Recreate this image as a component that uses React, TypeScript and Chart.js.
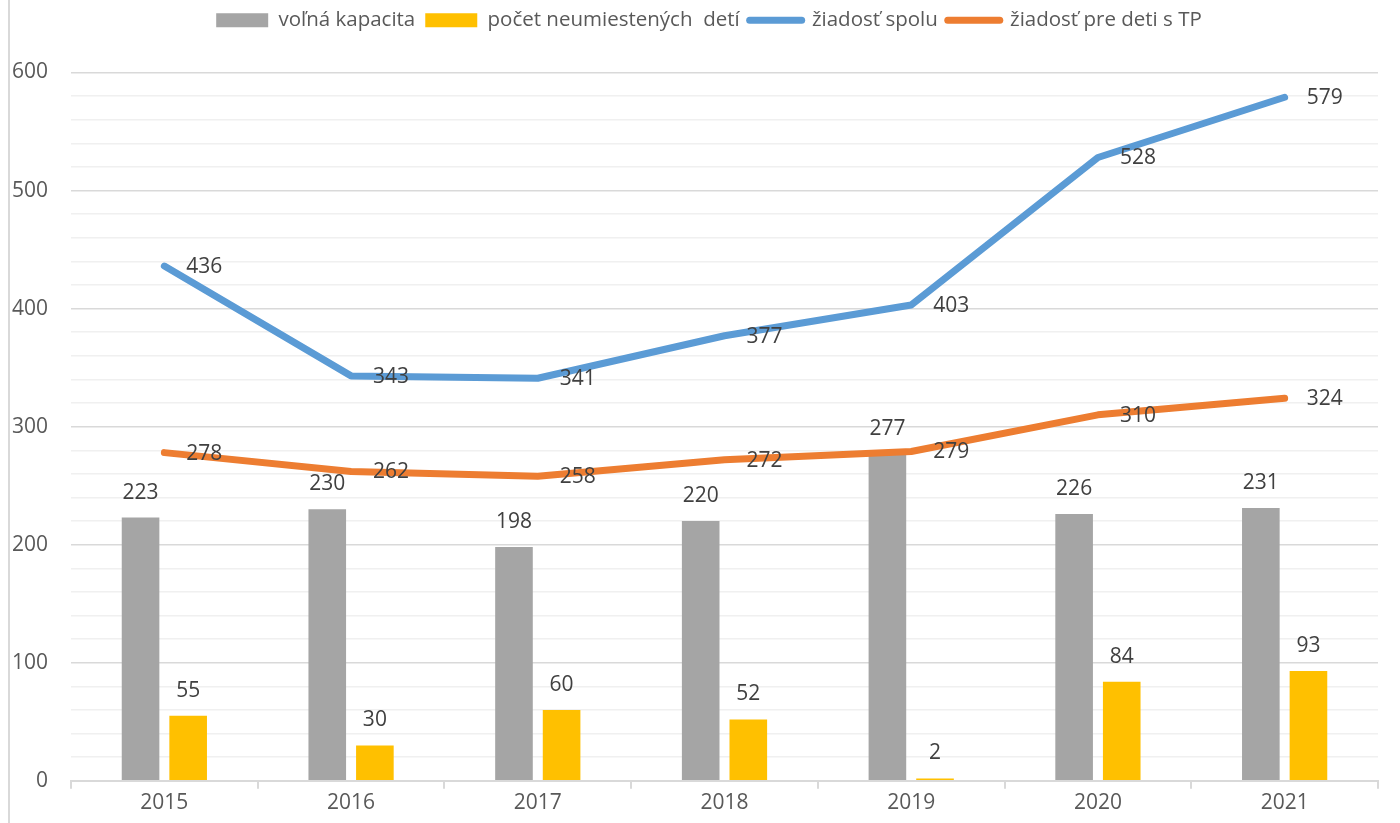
import React, { useEffect, useRef } from "react";
import { Chart, registerables } from "chart.js";

Chart.register(...registerables);

const years = ["2015", "2016", "2017", "2018", "2019", "2020", "2021"];
const volnaKapacita = [223, 230, 198, 220, 277, 226, 231];
const neumiestene = [55, 30, 60, 52, 2, 84, 93];
const ziadostSpolu = [436, 343, 341, 377, 403, 528, 579];
const ziadostTP = [278, 262, 258, 272, 279, 310, 324];
const seriesNames = [
  "voľná kapacita",
  "počet neumiestených  detí",
  "žiadosť spolu",
  "žiadosť pre deti s TP",
];

const FONT = "'Open Sans', 'DejaVu Sans', sans-serif";

const borderPlugin = {
  id: "frameBorder",
  beforeDraw(chart: any) {
    const ctx = chart.ctx;
    ctx.save();
    ctx.strokeStyle = "#d9d9d9";
    ctx.lineWidth = 2;
    ctx.beginPath();
    ctx.moveTo(9, 0);
    ctx.lineTo(9, chart.height);
    ctx.stroke();
    ctx.restore();
  },
};

const legendSpacer = {
  id: "legendSpacer",
  beforeInit(chart: any) {
    if (chart.legend) {
      const orig = chart.legend.fit;
      chart.legend.fit = function () {
        orig.call(this);
        this.height += 32;
      };
    }
  },
  afterLayout(chart: any) {
    if (chart.legend) {
      chart.legend.left += 15;
      chart.legend.right += 15;
    }
  },
};

const labelsPlugin = {
  id: "valueLabels",
  afterDatasetsDraw(chart: any) {
    const ctx = chart.ctx;
    ctx.save();
    ctx.font = `21px ${FONT}`;
    ctx.fillStyle = "#404040";
    chart.data.datasets.forEach((ds: any, di: number) => {
      const meta = chart.getDatasetMeta(di);
      meta.data.forEach((el: any, i: number) => {
        const v = ds.data[i];
        if (ds.type === "bar") {
          ctx.textAlign = "center";
          ctx.textBaseline = "middle";
          ctx.fillText(String(v), el.x, el.y - 25);
        } else {
          ctx.textAlign = "left";
          ctx.textBaseline = "middle";
          ctx.fillText(String(v), el.x + 22, el.y + 1);
        }
      });
    });
    ctx.restore();
  },
};

export default function App() {
  const ref = useRef<HTMLCanvasElement | null>(null);
  useEffect(() => {
    if (!ref.current) return;
    const chart = new Chart(ref.current, {
      type: "bar",
      data: {
        labels: years,
        datasets: [
          {
            type: "bar",
            label: seriesNames[0],
            data: volnaKapacita,
            backgroundColor: "#A5A5A5",
            borderWidth: 0,
            order: 2,
            categoryPercentage: 0.51,
            barPercentage: 0.79,
          } as any,
          {
            type: "bar",
            label: seriesNames[1],
            data: neumiestene,
            backgroundColor: "#FFC000",
            borderWidth: 0,
            order: 2,
            categoryPercentage: 0.51,
            barPercentage: 0.79,
          } as any,
          {
            type: "line",
            label: seriesNames[2],
            data: ziadostSpolu,
            borderColor: "#5B9BD5",
            backgroundColor: "#5B9BD5",
            borderWidth: 7,
            borderCapStyle: "round",
            borderJoinStyle: "round",
            pointRadius: 0,
            tension: 0,
            order: 1,
          } as any,
          {
            type: "line",
            label: seriesNames[3],
            data: ziadostTP,
            borderColor: "#ED7D31",
            backgroundColor: "#ED7D31",
            borderWidth: 7,
            borderCapStyle: "round",
            borderJoinStyle: "round",
            pointRadius: 0,
            tension: 0,
            order: 1,
          } as any,
        ],
      },
      options: {
        responsive: false,
        animation: false,
        layout: { padding: { left: 10, right: 22, top: 0, bottom: 5 } },
        plugins: {
          tooltip: { enabled: false },
          legend: {
            position: "top",
            labels: {
              font: { family: FONT, size: 20.5 },
              color: "#595959",
              usePointStyle: true,
              pointStyleWidth: 52,
              boxHeight: 14,
              padding: 10,
              sort: (a: any, b: any) => a.datasetIndex - b.datasetIndex,
              generateLabels: (c: any) => {
                const items = (Chart.defaults.plugins.legend.labels as any).generateLabels(c);
                return items.map((it: any) => {
                  const isBar = it.datasetIndex < 2;
                  const ds = c.data.datasets[it.datasetIndex];
                  return {
                    ...it,
                    pointStyle: isBar ? "rect" : "line",
                    fillStyle: isBar ? ds.backgroundColor : ds.borderColor,
                    strokeStyle: isBar ? ds.backgroundColor : ds.borderColor,
                    lineWidth: isBar ? 0 : 7,
                    lineCap: "round",
                  };
                });
              },
            },
          },
        },
        scales: {
          x: {
            offset: true,
            grid: {
              offset: true,
              drawOnChartArea: false,
              drawTicks: true,
              tickLength: 8,
              color: "#d9d9d9",
              lineWidth: 2,
            },
            border: { color: "#d9d9d9", width: 2 },
            ticks: {
              font: { family: FONT, size: 21 },
              color: "#595959",
              padding: 2,
            },
          },
          y: {
            min: 0,
            max: 600,
            afterFit: (scale: any) => {
              scale.width = 61;
            },
            border: { display: false },
            grid: {
              drawTicks: false,
              color: (c: any) => (c.tick && c.tick.value % 100 === 0 ? "#d9d9d9" : "#f0f0f0"),
              lineWidth: 1.5,
            },
            ticks: {
              stepSize: 20,
              autoSkip: false,
              padding: 23,
              font: { family: FONT, size: 21 },
              color: "#595959",
              callback: (v: any) => (Number(v) % 100 === 0 ? String(v) : ""),
            },
          },
        },
      },
      plugins: [borderPlugin, legendSpacer, labelsPlugin],
    });
    return () => chart.destroy();
  }, []);
  return (
    <div style={{ position: "absolute", left: 0, top: 0, width: 1400, height: 823 }}>
      <canvas ref={ref} width={1400} height={823} style={{ display: "block" }} />
    </div>
  );
}
